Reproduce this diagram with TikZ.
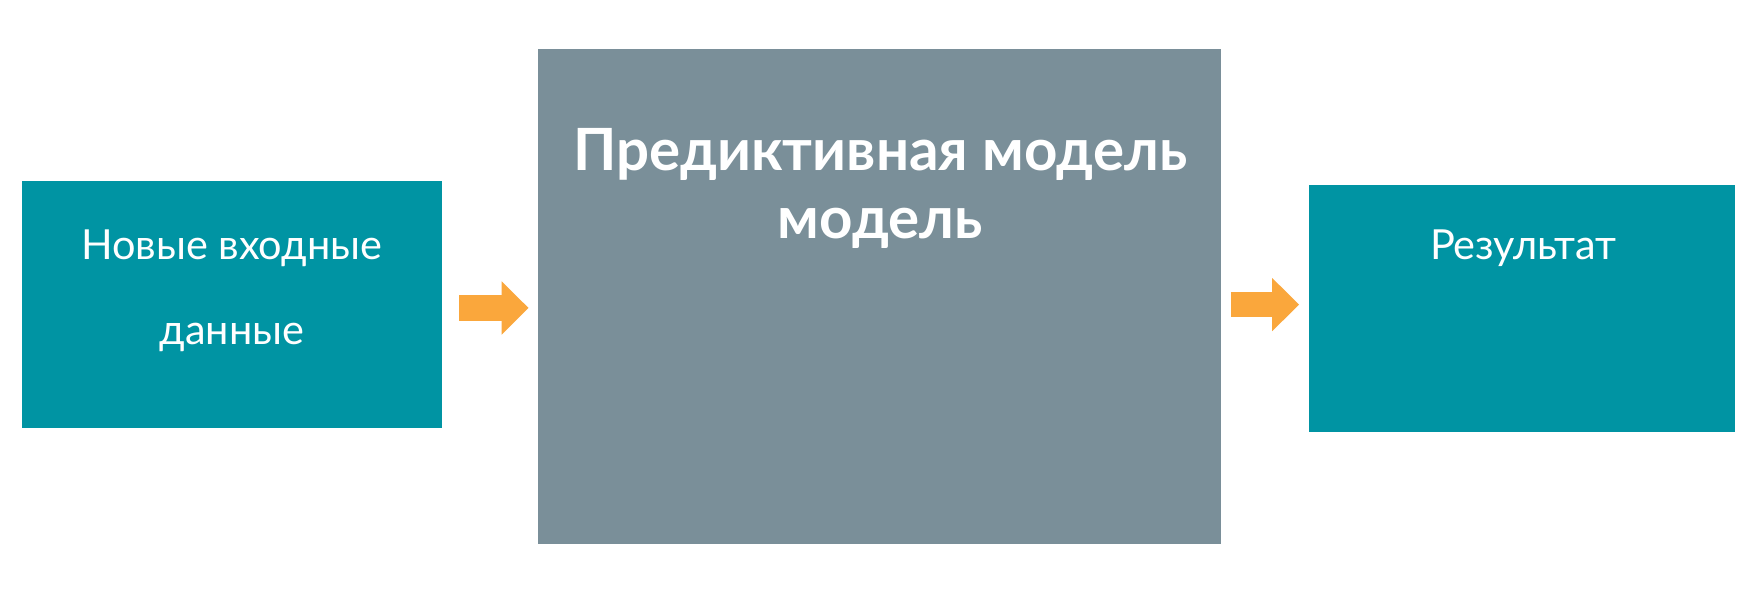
\documentclass[tikz,border=0pt]{standalone}
\usepackage{fontspec}
\setmainfont{Lato}
\usetikzlibrary{arrows.meta}
\definecolor{tealbox}{RGB}{0,148,163}
\definecolor{slatebox}{RGB}{122,143,153}
\definecolor{orangearr}{RGB}{250,167,60}
\begin{document}
\begin{tikzpicture}[x=1pt,y=-1pt,
  box/.style={inner sep=0pt, outer sep=0pt, draw=none},
  lbl/.style={anchor=base, text=white, inner sep=0pt, font=\fontsize{37}{44}\selectfont},
  title/.style={anchor=base, text=white, inner sep=0pt, font=\bfseries\fontsize{52}{62}\selectfont},
  blockarrow/.style={draw=orangearr, line width=23pt, -{Triangle[width=46pt,length=24pt]}}]
\useasboundingbox (0,0) rectangle (1568,529);
\fill[white] (0,0) rectangle (1568,529);
\node[box, fill=tealbox, minimum width=375pt, minimum height=220pt] (in) at (207.5,272) {};
\node[box, fill=slatebox, minimum width=610pt, minimum height=442pt] (model) at (785,265) {};
\node[box, fill=tealbox, minimum width=380pt, minimum height=221pt] (res) at (1359,275.5) {};
\node[lbl] (in1) at (207,232) {Новые входные};
\node[lbl] (in2) at (207,308) {данные};
\node[title] (t1) at (786,152) {Предиктивная модель};
\node[title] (t2) at (786,213) {модель};
\node[lbl] (r1) at (1360,232) {Результат};
\draw[blockarrow, shorten <=15pt, shorten >=8pt] ([yshift=-3pt]in.east) -- ([yshift=-3pt]in.east -| model.west);
\draw[blockarrow, shorten <=9pt, shorten >=9pt] ([yshift=3.5pt]res.west -| model.east) -- ([yshift=3.5pt]res.west);
\end{tikzpicture}
\end{document}
